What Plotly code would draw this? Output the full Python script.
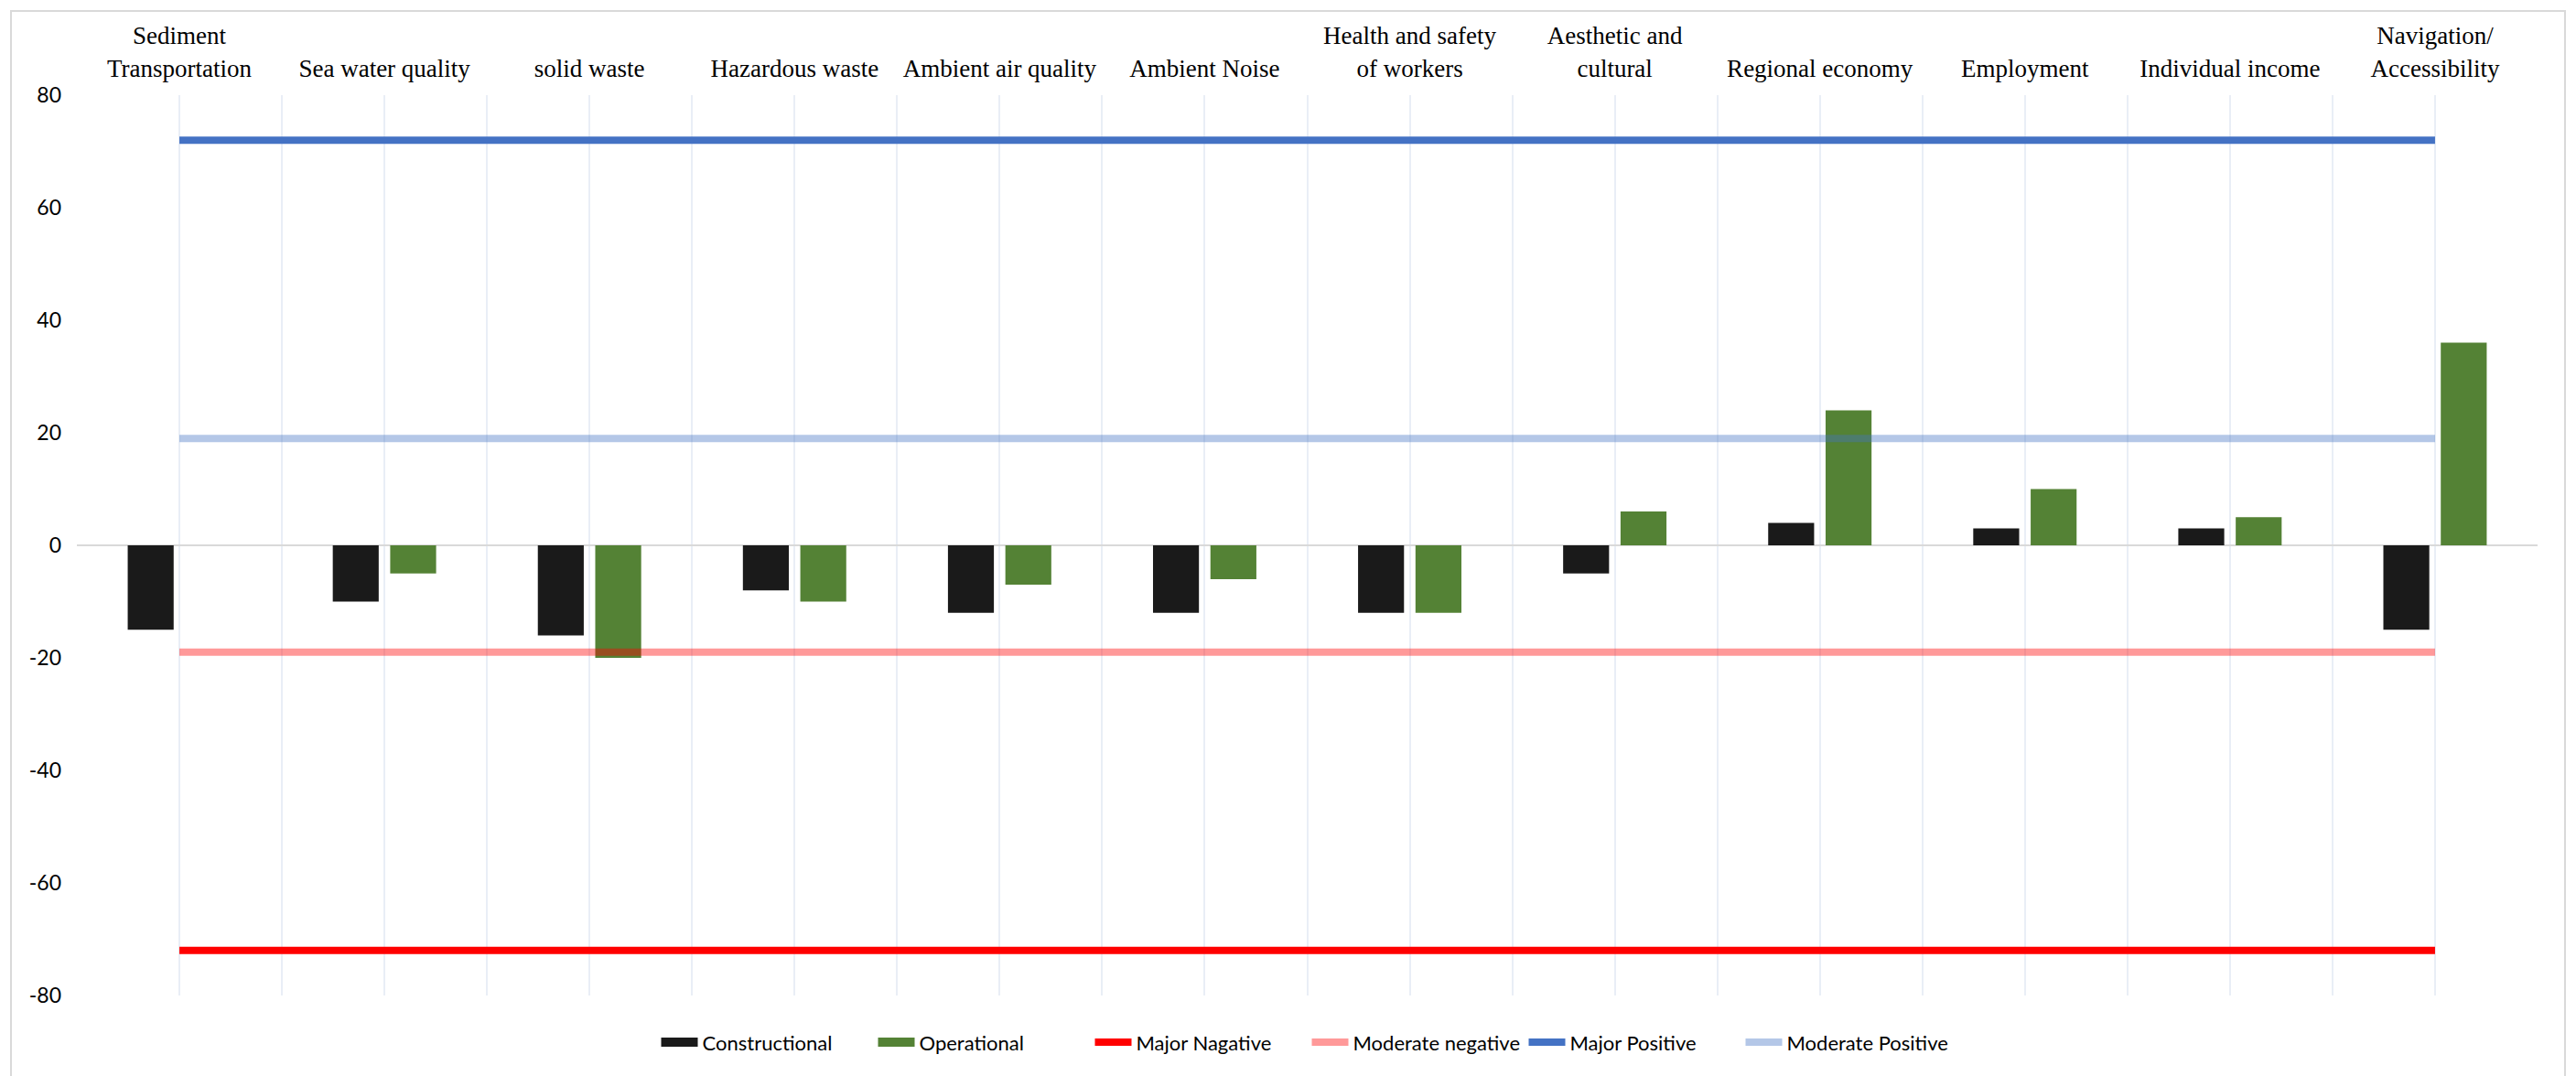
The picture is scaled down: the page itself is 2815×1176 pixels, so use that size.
import plotly.graph_objects as go

# Impact categories (shown along the top axis)
categories = [
    "Sediment<br>Transportation", "Sea water quality", "solid waste", "Hazardous waste",
    "Ambient air quality", "Ambient Noise", "Health and safety<br>of workers",
    "Aesthetic and<br>cultural", "Regional economy", "Employment", "Individual income",
    "Navigation/<br>Accessibility",
]

# Impact scores per phase
constructional = [-15, -10, -16, -8, -12, -12, -12, -5, 4, 3, 3, -15]
operational = [None, -5, -20, -10, -7, -6, -12, 6, 24, 10, 5, 36]

# Significance thresholds
major_negative = -72
moderate_negative = -19
major_positive = 72
moderate_positive = 19

y_ticks = [-80, -60, -40, -20, 0, 20, 40, 60, 80]

pos = list(range(len(categories)))

fig = go.Figure()
phases = [("Constructional", constructional, "#1a1a1a"),
          ("Operational", operational, "#548235")]
for name, vals, col in phases:
    fig.add_trace(go.Bar(x=pos, y=vals, name=name, legendgroup=name, showlegend=False,
                         marker=dict(color=col, line=dict(width=0))))

levels = [
    ("Major Nagative", major_negative, "#ff0000"),
    ("Moderate negative", moderate_negative, "rgba(255,0,0,0.4)"),
    ("Major Positive", major_positive, "#4472c4"),
    ("Moderate Positive", moderate_positive, "rgba(68,114,196,0.4)"),
]
for name, val, col in levels:
    fig.add_trace(go.Scatter(x=pos, y=[val] * len(pos), mode="lines", name=name,
                             line=dict(color=col, width=8)))

# wide rectangular legend keys for the two bar series
for i, (name, vals, col) in enumerate(phases):
    fig.add_trace(go.Scatter(x=[None], y=[None], mode="lines", name=name,
                             legendgroup=name, legendrank=i,
                             line=dict(color=col, width=13)))

grid_col = "#e9eef6"
fig.update_layout(
    width=2815, height=1176,
    margin=dict(l=84, r=42, t=104, b=88),
    paper_bgcolor="white", plot_bgcolor="white",
    barmode="group", bargap=0.44, bargroupgap=0.2,
    font=dict(family="Lato, Carlito, Liberation Sans, sans-serif",
              size=22, color="#000000"),
    xaxis=dict(
        range=[-0.5, len(pos) - 0.5], side="top",
        tickmode="array", tickvals=pos, ticktext=categories,
        tickfont=dict(family="Liberation Serif, Times New Roman, serif", size=27),
        ticks="", ticklen=0, showline=False, ticklabelstandoff=14,
        showgrid=True, gridcolor=grid_col, gridwidth=2,
        minor=dict(tickmode="array", tickvals=[p - 0.5 for p in pos] + [len(pos) - 0.5],
                   showgrid=True, gridcolor=grid_col, gridwidth=2, ticks=""),
        zeroline=False, fixedrange=True,
    ),
    yaxis=dict(
        range=[-80, 80], tickmode="array", tickvals=y_ticks,
        ticktext=[str(v) for v in y_ticks],
        tickfont=dict(size=23), ticks="", ticklabelstandoff=16,
        showgrid=False, showline=False,
        zeroline=True, zerolinecolor="#d9d9d9", zerolinewidth=2,
    ),
    legend=dict(orientation="h", x=0.5, xanchor="center", y=-0.052, yanchor="middle",
                font=dict(size=22), itemwidth=40, traceorder="normal",
                entrywidth=182, entrywidthmode="pixels",
                bgcolor="rgba(0,0,0,0)"),
    shapes=[dict(type="rect", xref="paper", yref="paper",
                 x0=-72 / 2689, x1=(2803 - 84) / 2689,
                 y0=(1088 - 1190) / 984, y1=(1088 - 12) / 984,
                 line=dict(color="#d9d9d9", width=2), fillcolor="rgba(0,0,0,0)",
                 layer="below")],
)

fig.write_html("out.html")
